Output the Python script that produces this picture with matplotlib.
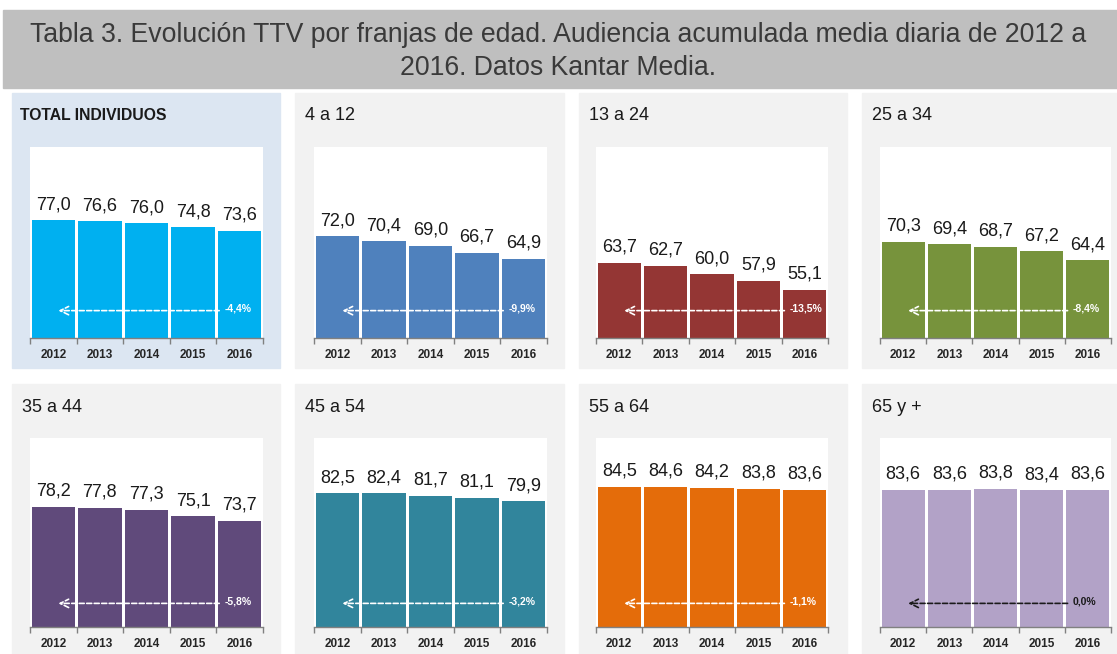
import matplotlib.pyplot as plt
from matplotlib.patches import Rectangle
from matplotlib import font_manager

# data
years = ["2012", "2013", "2014", "2015", "2016"]
groups = ["TOTAL INDIVIDUOS", "4 a 12", "13 a 24", "25 a 34",
          "35 a 44", "45 a 54", "55 a 64", "65 y +"]
total = [77.0, 76.6, 76.0, 74.8, 73.6]
g4_12 = [72.0, 70.4, 69.0, 66.7, 64.9]
g13_24 = [63.7, 62.7, 60.0, 57.9, 55.1]
g25_34 = [70.3, 69.4, 68.7, 67.2, 64.4]
g35_44 = [78.2, 77.8, 77.3, 75.1, 73.7]
g45_54 = [82.5, 82.4, 81.7, 81.1, 79.9]
g55_64 = [84.5, 84.6, 84.2, 83.8, 83.6]
g65 = [83.6, 83.6, 83.8, 83.4, 83.6]
changes = ["-4,4%", "-9,9%", "-13,5%", "-8,4%", "-5,8%", "-3,2%", "-1,1%", "0,0%"]

series = [total, g4_12, g13_24, g25_34, g35_44, g45_54, g55_64, g65]
colors = ["#00b0f0", "#4f81bd", "#943634", "#77933c",
          "#604a7b", "#31859c", "#e46c0a", "#b2a2c7"]
panel_bg = ["#dce6f2"] + ["#f2f2f2"] * 7

available = {f.name for f in font_manager.fontManager.ttflist}
narrow = "Liberation Sans Narrow" if "Liberation Sans Narrow" in available else "Liberation Sans"

W, H = 1117, 654
fig = plt.figure(figsize=(W / 100, H / 100), dpi=100)
fig.patch.set_facecolor("white")


def fx(px):
    return px / W


def fy(py):
    return 1 - py / H


# title box
fig.patches.append(Rectangle((fx(3), fy(88)), fx(1114), (88 - 10) / H,
                             transform=fig.transFigure, color="#bfbfbf", zorder=-2))
fig.text(0.5, fy(35), "Tabla 3. Evolución TTV por franjas de edad. Audiencia acumulada media diaria de 2012 a",
         ha="center", va="center", fontsize=19.2, color="#3a3a3a", family="Liberation Sans")
fig.text(0.5, fy(68), "2016. Datos Kantar Media.",
         ha="center", va="center", fontsize=19.2, color="#3a3a3a", family="Liberation Sans")

panel_x = [(12, 280), (295, 564), (579, 847), (862, 1117)]
panel_y = [(93, 368), (384, 654)]
axes_x = [(30, 263), (314, 547), (596, 828), (880, 1111)]
axes_y = [(147, 338), (438, 627)]
title_y = [115, 407]

for i, (vals, col, bg, name, chg) in enumerate(zip(series, colors, panel_bg, groups, changes)):
    r, c = divmod(i, 4)
    px0, px1 = panel_x[c]
    py0, py1 = panel_y[r]
    fig.patches.append(Rectangle((fx(px0), fy(py1)), fx(px1 - px0), (py1 - py0) / H,
                                 transform=fig.transFigure, color=bg, zorder=-2))
    if i == 0:
        fig.text(fx(px0 + 8), fy(title_y[r]), name, ha="left", va="center",
                 fontsize=11.3, fontweight="bold", color="#1a1a1a", family=narrow)
    else:
        fig.text(fx(px0 + 10), fy(title_y[r]), name, ha="left", va="center",
                 fontsize=13, color="#1a1a1a", family=narrow)

    ax0, ax1 = axes_x[c]
    ay0, ay1 = axes_y[r]
    ax = fig.add_axes([fx(ax0), fy(ay1), fx(ax1 - ax0), (ay1 - ay0) / H])
    ax.set_facecolor("white")
    xs = list(range(len(years)))
    ax.bar(xs, vals, width=0.93, color=col, zorder=2)
    ax.set_xlim(-0.5, 4.5)
    ax.set_ylim(40, 100)
    for s in ["left", "right", "top"]:
        ax.spines[s].set_visible(False)
    ax.spines["bottom"].set_color("#808080")
    ax.spines["bottom"].set_linewidth(1.0)
    ax.set_yticks([])
    ax.set_xticks([x - 0.5 for x in range(6)])
    ax.set_xticklabels([])
    ax.tick_params(axis="x", which="major", length=4, color="#808080", width=1.0)
    ax.set_xticks(xs, minor=True)
    ax.set_xticklabels(years, minor=True, fontsize=8.5, fontweight="bold",
                       color="#262626", family=narrow)
    ax.tick_params(axis="x", which="minor", length=0, pad=8)

    for x, v in zip(xs, vals):
        ax.annotate(f"{v:.1f}".replace(".", ","), (x, v), xytext=(0, 8),
                    textcoords="offset points", ha="center", va="baseline",
                    fontsize=13, color="#1a1a1a", family=narrow)

    acol = "#1a1a1a" if i == 7 else "white"
    ay = 48.6 if r == 0 else 47.5
    ax.annotate("", xy=(0.05, ay), xytext=(3.62, ay),
                arrowprops=dict(arrowstyle="->", color=acol, lw=1.2,
                                linestyle=(0, (3, 1.5)), mutation_scale=15),
                zorder=3)
    ax.text(3.68, ay + 0.6, chg, ha="left", va="center", fontsize=7.5,
            fontweight="bold", color=acol, family=narrow, zorder=3)

fig.savefig("out.png", dpi=100)
